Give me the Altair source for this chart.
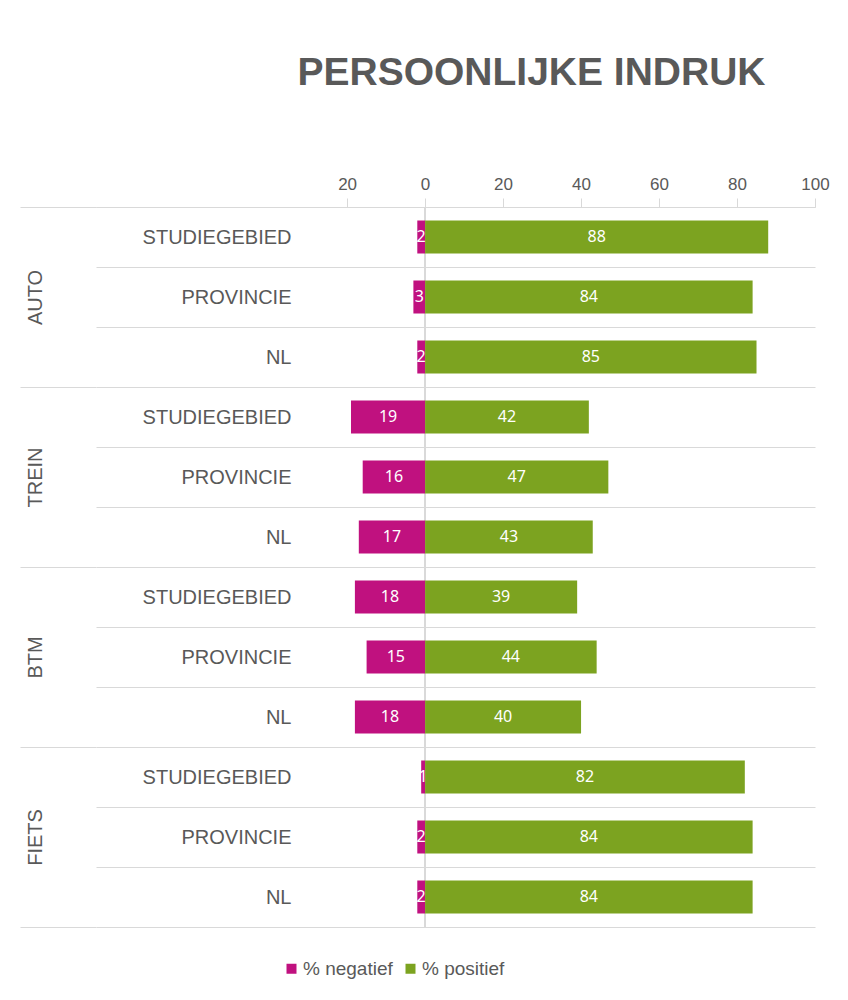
import altair as alt
import pandas as pd

groups = ["AUTO", "TREIN", "BTM", "FIETS"]
subs = ["STUDIEGEBIED", "PROVINCIE", "NL"]
negatief = [2, 3, 2, 19, 16, 17, 18, 15, 18, 1, 2, 2]
positief = [88, 84, 85, 42, 47, 43, 39, 44, 40, 82, 84, 84]
series = ["% negatief", "% positief"]
tick_values = [-20, 0, 20, 40, 60, 80, 100]

rows = []
keys = []
i = 0
for g in groups:
    for s in subs:
        k = g + "|" + s
        keys.append(k)
        rows.append({"group": g, "key": k, "serie": series[0], "value": -negatief[i], "label": negatief[i]})
        rows.append({"group": g, "key": k, "serie": series[1], "value": positief[i], "label": positief[i]})
        i += 1
df = pd.DataFrame(rows)

GRAY = "#595959"
LINE = "#d9d9d9"
W = 719
H = 720

xscale = alt.Scale(domain=[-84.4, 100], nice=False, zero=False)
band = alt.Scale(paddingInner=0, paddingOuter=0)

base = alt.Chart(df)

bars = base.mark_bar(height=alt.RelativeBandSize(band=0.55)).encode(
    x=alt.X(
        "value:Q",
        scale=xscale,
        axis=alt.Axis(
            title=None, orient="top", values=tick_values, labelExpr="abs(datum.value)",
            grid=False, domain=True, domainColor=LINE, tickColor=LINE, tickSize=9,
            labelFlush=False, labelFont="Liberation Sans", labelFontSize=17,
            labelColor=GRAY, labelPadding=5,
        ),
    ),
    y=alt.Y(
        "key:N", sort=keys, scale=band,
        axis=alt.Axis(
            title=None, orient="left", offset=-197, ticks=False, domain=False,
            labelExpr="split(datum.label, '|')[1]",
            labelFont="Liberation Sans", labelFontSize=20, labelColor=GRAY,
            labelPadding=2, grid=True, gridColor=LINE, gridWidth=1, tickBand="extent",
        ),
    ),
    color=alt.Color(
        "serie:N",
        scale=alt.Scale(domain=series, range=["#C0117F", "#7CA320"]),
        legend=alt.Legend(
            title=None, orient="none", legendX=186, legendY=752, direction="horizontal",
            symbolType="square", symbolSize=100, symbolStrokeWidth=0,
            labelFont="Liberation Sans", labelFontSize=19, labelColor=GRAY,
            columnPadding=8, labelOffset=2,
        ),
    ),
)

texts = base.mark_text(color="white", font="Noto Sans", fontSize=16, baseline="middle").transform_calculate(
    mid="datum.value / 2"
).encode(
    x=alt.X("mid:Q", scale=xscale),
    y=alt.Y("key:N", sort=keys, scale=band, axis=None),
    text="label:Q",
)

zero = base.mark_rule(color=LINE, strokeWidth=1).encode(x=alt.datum(0))

group_axis = base.mark_point(opacity=0, size=0).encode(
    x=alt.datum(0),
    y=alt.Y(
        "group:N", sort=groups, scale=band,
        axis=alt.Axis(
            title=None, orient="left", offset=0, domain=False, grid=False,
            ticks=True, tickSize=76, tickColor=LINE, tickWidth=1, tickBand="extent",
            labelAngle=270, labelAlign="center", labelBaseline="bottom",
            labelFont="Liberation Sans", labelFontSize=20, labelColor=GRAY,
            labelPadding=-25,
        ),
    ),
)

chart = alt.layer(zero, bars, texts, group_axis).resolve_scale(y="independent").properties(
    width=W,
    height=H,
    title=alt.TitleParams(
        "PERSOONLIJKE INDRUK", anchor="middle", frame="group", fontSize=39, font="Liberation Sans",
        fontWeight="bold", color=GRAY, offset=82, dx=76,
    ),
    padding={"left": 11, "top": 46, "right": 4, "bottom": 4},
    background="white",
).configure_view(stroke=None)

chart.save("out.html", embed_options={"renderer": "svg", "actions": False})
